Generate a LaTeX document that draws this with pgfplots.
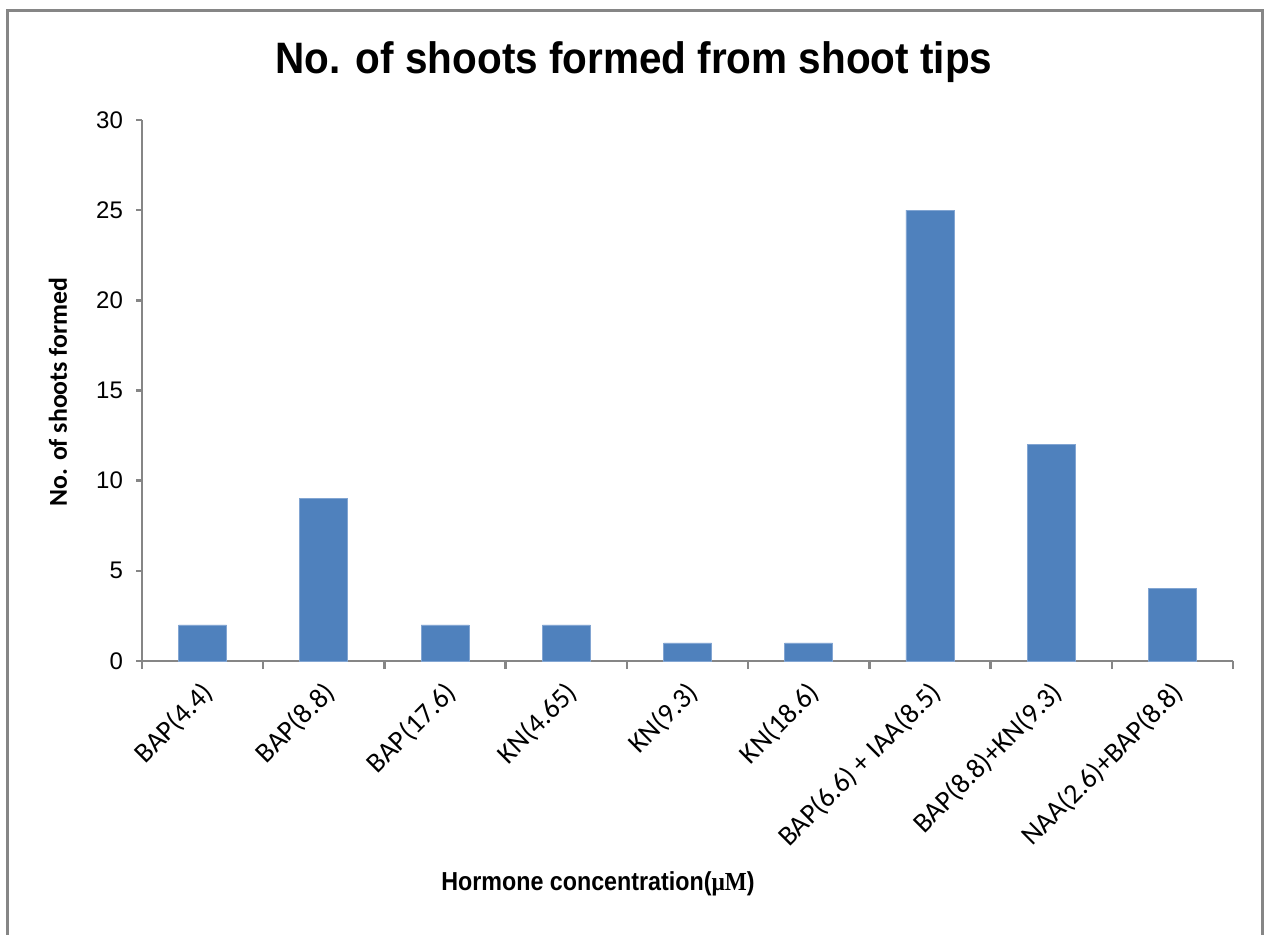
\documentclass[border=0pt]{standalone}
\usepackage{pgfplots}
\pgfplotsset{compat=1.18}
\usepackage{fontspec}
\setmainfont{Liberation Sans}
\newfontfamily\carlito{Carlito}
\newfontfamily\serifb{Liberation Serif}
\definecolor{barblue}{RGB}{79,129,189}
\definecolor{baredge}{RGB}{130,165,210}
\definecolor{axgray}{RGB}{134,134,134}
\begin{document}
\begin{tikzpicture}
\useasboundingbox (0,0) rectangle (634.5pt,-467pt);
\draw[axgray, line width=1.5pt] (3.5pt,-475pt) -- (3.5pt,-5pt) -- (631pt,-5pt) -- (631pt,-475pt);
\begin{axis}[
  at={(71pt,-330.5pt)}, anchor=south west,
  scale only axis, width=545.5pt, height=270.5pt,
  xmin=-0.5, xmax=8.5, ymin=0, ymax=30,
  ytick={0,5,...,30},
  xtick={0,...,8},
  xticklabels={BAP(4.4),BAP(8.8),BAP(17.6),KN(4.65),KN(9.3),KN(18.6),BAP(6.6) + IAA(8.5),BAP(8.8)+KN(9.3),NAA(2.6)+BAP(8.8)},
  minor xtick={-0.5,0.5,...,8.5},
  axis x line=bottom, axis y line=left,
  axis line style={draw=axgray, line width=1.2pt, -},
  tick align=outside,
  major x tick style={draw=none},
  minor x tick style={draw=axgray, line width=1.2pt},
  y tick style={draw=axgray, line width=1.2pt},
  minor tick length=4pt, major tick length=3pt,
  /pgf/number format/assume math mode=true,
  yticklabel style={font=\fontsize{12}{14}\selectfont, xshift=-3pt},
  xticklabel style={font=\carlito\fontsize{14}{16}\selectfont, rotate=45, anchor=east, yshift=-10pt, xshift=-2pt},
  ybar, bar width=24pt,
]
\addplot[fill=barblue, draw=baredge, line width=0.4pt] coordinates {
(0,2) (1,9) (2,2) (3,2) (4,1) (5,1) (6,25) (7,12) (8,4)};
\end{axis}
\node[anchor=base] at (317pt,-36.5pt) {\scalebox{0.92}[1]{\fontsize{22}{26}\selectfont\bfseries No. of shoots formed from shoot tips}};
\node[rotate=90] at (29pt,-196pt) {\carlito\fontsize{12.9}{15}\selectfont\bfseries No. of shoots formed};
\node[anchor=base] at (299pt,-445pt) {\scalebox{0.895}[1]{\fontsize{13}{15}\selectfont\bfseries Hormone concentration({\serifb µM})}};
\end{tikzpicture}
\end{document}
